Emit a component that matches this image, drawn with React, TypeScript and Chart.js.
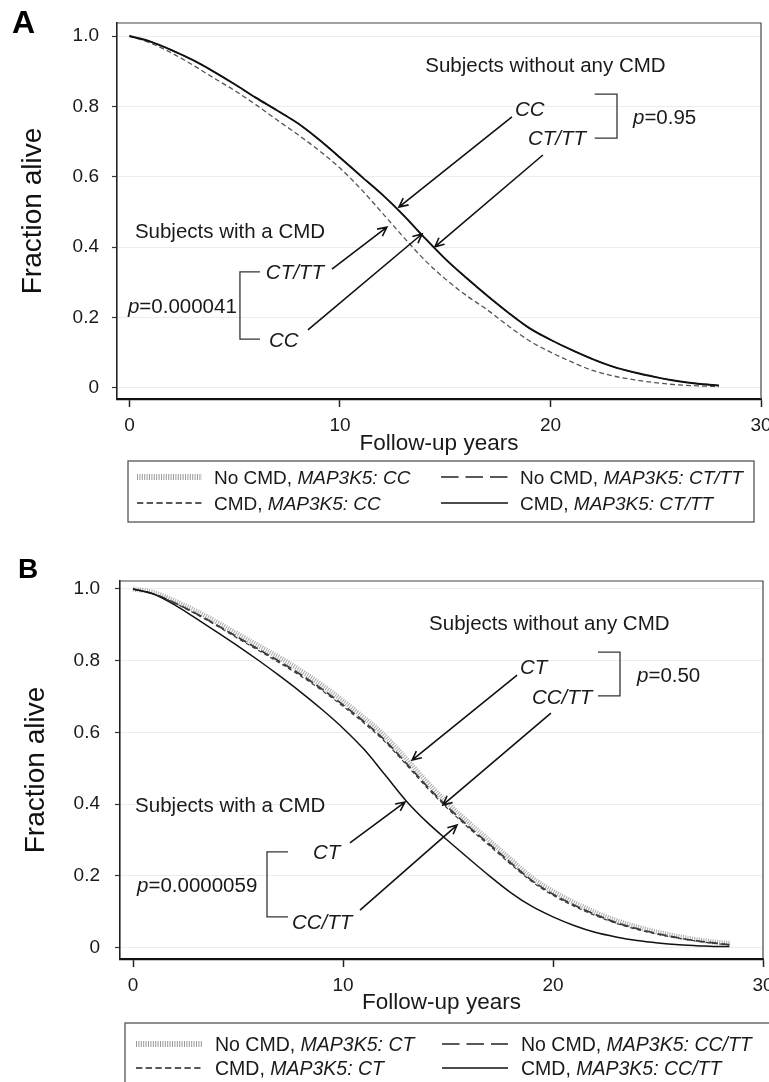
import React, { useEffect, useRef } from 'react';
import { Chart, registerables } from 'chart.js';

Chart.register(...registerables);

const SANS = '"Liberation Sans", Arial, Helvetica, sans-serif';

// ---------- shared axis ticks ----------
const yTickValues = [0, 0.2, 0.4, 0.6, 0.8, 1.0];
const yTickLabels = ['0', '0.2', '0.4', '0.6', '0.8', '1.0'];
const xTickValues = [0, 10, 20, 30];
const xTickLabels = ['0', '10', '20', '30'];

// ---------- Panel A data (fraction alive by follow-up year) ----------
const yearsA = [0, 1, 2, 3, 4, 5, 6, 7, 8, 9, 10, 11, 12, 13, 14, 15, 16, 17, 18, 19, 20, 21, 22, 23, 24, 25, 26, 27, 28];
const aNoCmdCC = [1.0, 0.984, 0.96, 0.932, 0.899, 0.863, 0.825, 0.789, 0.752, 0.706, 0.655, 0.602, 0.55, 0.492, 0.428, 0.367, 0.313, 0.262, 0.214, 0.17, 0.137, 0.108, 0.082, 0.06, 0.044, 0.031, 0.02, 0.012, 0.007];
const aNoCmdCTTT = [1.0, 0.984, 0.96, 0.932, 0.899, 0.863, 0.825, 0.789, 0.752, 0.706, 0.655, 0.602, 0.55, 0.492, 0.428, 0.367, 0.313, 0.262, 0.214, 0.17, 0.137, 0.108, 0.082, 0.06, 0.044, 0.031, 0.02, 0.012, 0.007];
const aCmdCC = [1.0, 0.98, 0.952, 0.918, 0.881, 0.845, 0.805, 0.762, 0.72, 0.675, 0.625, 0.565, 0.498, 0.43, 0.365, 0.31, 0.263, 0.222, 0.176, 0.134, 0.102, 0.074, 0.05, 0.034, 0.023, 0.015, 0.009, 0.006, 0.004];
const aCmdCTTT = [1.0, 0.984, 0.96, 0.932, 0.899, 0.863, 0.825, 0.789, 0.752, 0.706, 0.655, 0.602, 0.55, 0.492, 0.428, 0.367, 0.313, 0.262, 0.214, 0.17, 0.137, 0.108, 0.082, 0.06, 0.044, 0.031, 0.02, 0.012, 0.007];

// ---------- Panel B data ----------
const yearsB = [0, 1, 2, 3, 4, 5, 6, 7, 8, 9, 10, 11, 12, 13, 14, 15, 16, 17, 18, 19, 20, 21, 22, 23, 24, 25, 26, 27, 28, 28.4];
const bNoCmdCT = [1.0, 0.99, 0.966, 0.939, 0.907, 0.874, 0.841, 0.808, 0.772, 0.732, 0.688, 0.641, 0.59, 0.527, 0.462, 0.402, 0.348, 0.297, 0.245, 0.195, 0.157, 0.126, 0.099, 0.076, 0.058, 0.043, 0.031, 0.021, 0.014, 0.012];
const bNoCmdCCTT = [1.0, 0.986, 0.961, 0.932, 0.899, 0.865, 0.831, 0.797, 0.761, 0.721, 0.677, 0.63, 0.578, 0.515, 0.45, 0.391, 0.337, 0.287, 0.236, 0.187, 0.149, 0.119, 0.093, 0.07, 0.053, 0.039, 0.027, 0.018, 0.011, 0.009];
const bCmdCT = [1.0, 0.986, 0.96, 0.93, 0.897, 0.862, 0.828, 0.793, 0.757, 0.717, 0.673, 0.626, 0.574, 0.511, 0.446, 0.387, 0.333, 0.283, 0.232, 0.184, 0.146, 0.116, 0.09, 0.068, 0.051, 0.037, 0.026, 0.017, 0.01, 0.008];
const bCmdCCTT = [1.0, 0.985, 0.955, 0.918, 0.88, 0.841, 0.8, 0.757, 0.712, 0.664, 0.612, 0.553, 0.482, 0.41, 0.35, 0.298, 0.248, 0.199, 0.153, 0.115, 0.086, 0.062, 0.043, 0.03, 0.02, 0.013, 0.008, 0.005, 0.003, 0.003];

// ---------- legend texts ----------
const legendA: [string, string][] = [
  ['No CMD, ', 'MAP3K5: CC'],
  ['No CMD, ', 'MAP3K5: CT/TT'],
  ['CMD, ', 'MAP3K5: CC'],
  ['CMD, ', 'MAP3K5: CT/TT'],
];
const legendB: [string, string][] = [
  ['No CMD, ', 'MAP3K5: CT'],
  ['No CMD, ', 'MAP3K5: CC/TT'],
  ['CMD, ', 'MAP3K5: CT'],
  ['CMD, ', 'MAP3K5: CC/TT'],
];
const legendStyles = ['dotted', 'longdash', 'dash', 'solid'];

type Part = [string, boolean];
type Ann =
  | { kind: 'text'; x: number; y: number; parts: Part[] }
  | { kind: 'arrow'; x1: number; y1: number; x2: number; y2: number }
  | { kind: 'bracket'; x1: number; x2: number; y1: number; y2: number };

const annA: Ann[] = [
  { kind: 'text', x: 14.05, y: 0.918, parts: [['Subjects without any CMD', false]] },
  { kind: 'text', x: 18.31, y: 0.795, parts: [['CC', true]] },
  { kind: 'text', x: 18.93, y: 0.71, parts: [['CT/TT', true]] },
  { kind: 'bracket', x1: 22.1, x2: 23.16, y1: 0.835, y2: 0.71 },
  { kind: 'text', x: 23.92, y: 0.77, parts: [['p', true], ['=0.95', false]] },
  { kind: 'arrow', x1: 18.17, y1: 0.77, x2: 12.8, y2: 0.514 },
  { kind: 'arrow', x1: 19.64, y1: 0.662, x2: 14.51, y2: 0.401 },
  { kind: 'text', x: 0.26, y: 0.446, parts: [['Subjects with a CMD', false]] },
  { kind: 'text', x: 6.48, y: 0.33, parts: [['CT/TT', true]] },
  { kind: 'text', x: 6.63, y: 0.136, parts: [['CC', true]] },
  { kind: 'bracket', x1: 6.2, x2: 5.25, y1: 0.33, y2: 0.139 },
  { kind: 'text', x: -0.07, y: 0.233, parts: [['p', true], ['=0.000041', false]] },
  { kind: 'arrow', x1: 9.62, y1: 0.338, x2: 12.23, y2: 0.457 },
  { kind: 'arrow', x1: 8.48, y1: 0.165, x2: 13.9, y2: 0.4375 },
];

const annB: Ann[] = [
  { kind: 'text', x: 14.1, y: 0.905, parts: [['Subjects without any CMD', false]] },
  { kind: 'text', x: 18.43, y: 0.783, parts: [['CT', true]] },
  { kind: 'text', x: 19.0, y: 0.699, parts: [['CC/TT', true]] },
  { kind: 'bracket', x1: 22.14, x2: 23.19, y1: 0.824, y2: 0.702 },
  { kind: 'text', x: 24.0, y: 0.76, parts: [['p', true], ['=0.50', false]] },
  { kind: 'arrow', x1: 18.29, y1: 0.76, x2: 13.29, y2: 0.523 },
  { kind: 'arrow', x1: 19.9, y1: 0.654, x2: 14.76, y2: 0.398 },
  { kind: 'text', x: 0.1, y: 0.4, parts: [['Subjects with a CMD', false]] },
  { kind: 'text', x: 8.57, y: 0.267, parts: [['CT', true]] },
  { kind: 'text', x: 7.57, y: 0.0717, parts: [['CC/TT', true]] },
  { kind: 'bracket', x1: 7.38, x2: 6.38, y1: 0.267, y2: 0.0857 },
  { kind: 'text', x: 0.19, y: 0.175, parts: [['p', true], ['=0.0000059', false]] },
  { kind: 'arrow', x1: 10.33, y1: 0.292, x2: 12.95, y2: 0.406 },
  { kind: 'arrow', x1: 10.81, y1: 0.105, x2: 15.43, y2: 0.342 },
];

interface LegendCfg {
  box: [number, number, number, number];
  rows: [number, number];
  cols: { s1: number; s2: number; t: number }[];
  entries: [string, string][];
  size: number;
  squeeze: number;
}

interface PanelCfg {
  top: number;
  letter: string;
  letterX: number;
  letterBase: number;
  letterSize: number;
  pad: { left: number; top: number; right: number; bottom: number };
  yWidth: number;
  xHeight: number;
  yLabelPad: number;
  yTitlePad: number;
  xMin: number;
  xMax: number;
  yMin: number;
  yMax: number;
  xTitleBase: number;
  anns: Ann[];
  legend: LegendCfg;
  datasets: any[];
}

const H = 541;

function ds(label: string, years: number[], vals: number[], style: any, order: number) {
  return {
    label,
    data: years.map((x, i) => ({ x, y: vals[i] })),
    pointRadius: 0,
    fill: false,
    cubicInterpolationMode: 'monotone',
    order,
    ...style,
  };
}

const panelA: PanelCfg = {
  top: 0,
  letter: 'A',
  letterX: 12,
  letterBase: 33,
  letterSize: 32,
  pad: { left: 8, top: 23, right: 8, bottom: H - 399 - 60 },
  yWidth: 109,
  xHeight: 60,
  yLabelPad: 13,
  yTitlePad: 8,
  xMin: -0.59,
  xMax: 30,
  yMin: -0.0313,
  yMax: 1.037,
  xTitleBase: 450,
  anns: annA,
  legend: {
    box: [128, 461, 754, 522],
    rows: [477, 503],
    cols: [
      { s1: 137, s2: 202, t: 214 },
      { s1: 441, s2: 508, t: 520 },
    ],
    entries: legendA,
    size: 19,
    squeeze: 1,
  },
  datasets: [
    ds('No CMD, MAP3K5: CC', yearsA, aNoCmdCC, { borderColor: '#9a9a9a', borderWidth: 1.2, borderDash: [1, 1.3] }, 4),
    ds('No CMD, MAP3K5: CT/TT', yearsA, aNoCmdCTTT, { borderColor: '#333', borderWidth: 1.2, borderDash: [10, 4] }, 3),
    ds('CMD, MAP3K5: CC', yearsA, aCmdCC, { borderColor: '#555', borderWidth: 1.3, borderDash: [5, 3] }, 2),
    ds('CMD, MAP3K5: CT/TT', yearsA, aCmdCTTT, { borderColor: '#111', borderWidth: 1.9 }, 1),
  ],
};

const panelB: PanelCfg = {
  top: H,
  letter: 'B',
  letterX: 18,
  letterBase: 37,
  letterSize: 28,
  pad: { left: 8, top: 40, right: 6, bottom: H - 418 - 60 },
  yWidth: 112,
  xHeight: 60,
  yLabelPad: 15,
  yTitlePad: 11,
  xMin: -0.62,
  xMax: 30,
  yMin: -0.0315,
  yMax: 1.0223,
  xTitleBase: 468,
  anns: annB,
  legend: {
    box: [125, 482, 800, 560],
    rows: [503, 527],
    cols: [
      { s1: 136, s2: 202, t: 215 },
      { s1: 442, s2: 508, t: 521 },
    ],
    entries: legendB,
    size: 19.5,
    squeeze: 1,
  },
  datasets: [
    ds('No CMD, MAP3K5: CT', yearsB, bNoCmdCT, { borderColor: '#a8a8a8', borderWidth: 5, borderDash: [1, 1.3] }, 4),
    ds('No CMD, MAP3K5: CC/TT', yearsB, bNoCmdCCTT, { borderColor: '#3a3a3a', borderWidth: 1.7, borderDash: [9, 4] }, 3),
    ds('CMD, MAP3K5: CT', yearsB, bCmdCT, { borderColor: '#3a3a3a', borderWidth: 1.2, borderDash: [4, 3] }, 2),
    ds('CMD, MAP3K5: CC/TT', yearsB, bCmdCCTT, { borderColor: '#111', borderWidth: 1.5 }, 1),
  ],
};

function drawParts(ctx: CanvasRenderingContext2D, parts: Part[], x: number, base: number, size: number, squeeze = 1) {
  ctx.save();
  ctx.translate(x, base);
  ctx.scale(squeeze, 1);
  let cx = 0;
  for (const [s, it] of parts) {
    ctx.font = `${it ? 'italic ' : ''}${size}px ${SANS}`;
    ctx.fillText(s, cx, 0);
    cx += ctx.measureText(s).width;
  }
  ctx.restore();
}

function drawSample(ctx: CanvasRenderingContext2D, style: string, x1: number, x2: number, y: number) {
  ctx.save();
  ctx.beginPath();
  ctx.lineCap = 'butt';
  if (style === 'dotted') {
    ctx.strokeStyle = '#9a9a9a';
    ctx.lineWidth = 6;
    ctx.setLineDash([1, 1.4]);
  } else if (style === 'longdash') {
    ctx.strokeStyle = '#222';
    ctx.lineWidth = 1.6;
    ctx.setLineDash([17.5, 7]);
  } else if (style === 'dash') {
    ctx.strokeStyle = '#222';
    ctx.lineWidth = 1.3;
    ctx.setLineDash([6.3, 3.4]);
  } else {
    ctx.strokeStyle = '#111';
    ctx.lineWidth = 1.6;
    ctx.setLineDash([]);
  }
  ctx.moveTo(x1, y);
  ctx.lineTo(x2, y);
  ctx.stroke();
  ctx.restore();
}

function makeOverlay(cfg: PanelCfg) {
  return {
    id: 'overlay' + cfg.letter,
    afterDraw(chart: any) {
      const ctx: CanvasRenderingContext2D = chart.ctx;
      const { left, top, right, bottom } = chart.chartArea;
      const xs = chart.scales.x;
      const ys = chart.scales.y;
      ctx.save();
      // frame top + right
      ctx.strokeStyle = '#444';
      ctx.lineWidth = 1.2;
      ctx.beginPath();
      ctx.moveTo(left, top);
      ctx.lineTo(right, top);
      ctx.lineTo(right, bottom);
      ctx.stroke();

      // panel letter
      ctx.fillStyle = '#000';
      ctx.textBaseline = 'alphabetic';
      ctx.textAlign = 'left';
      ctx.font = `bold ${cfg.letterSize}px ${SANS}`;
      ctx.fillText(cfg.letter, cfg.letterX, cfg.letterBase);

      // x axis title
      ctx.fillStyle = '#1a1a1a';
      ctx.font = `22.5px ${SANS}`;
      ctx.textAlign = 'center';
      ctx.fillText('Follow-up years', (left + right) / 2, cfg.xTitleBase);
      ctx.textAlign = 'left';

      // annotations
      const fs = 20.5;
      for (const a of cfg.anns) {
        if (a.kind === 'text') {
          const px = xs.getPixelForValue(a.x);
          const py = ys.getPixelForValue(a.y);
          ctx.fillStyle = '#1a1a1a';
          drawParts(ctx, a.parts, px, py + 0.358 * fs, fs);
        } else if (a.kind === 'bracket') {
          const x1 = xs.getPixelForValue(a.x1);
          const x2 = xs.getPixelForValue(a.x2);
          const y1 = ys.getPixelForValue(a.y1);
          const y2 = ys.getPixelForValue(a.y2);
          ctx.strokeStyle = '#333';
          ctx.lineWidth = 1.3;
          ctx.beginPath();
          ctx.moveTo(x1, y1);
          ctx.lineTo(x2, y1);
          ctx.lineTo(x2, y2);
          ctx.lineTo(x1, y2);
          ctx.stroke();
        } else {
          const x1 = xs.getPixelForValue(a.x1);
          const x2 = xs.getPixelForValue(a.x2);
          const y1 = ys.getPixelForValue(a.y1);
          const y2 = ys.getPixelForValue(a.y2);
          const ang = Math.atan2(y2 - y1, x2 - x1);
          const hl = 10;
          const spread = 0.45;
          ctx.strokeStyle = '#111';
          ctx.lineWidth = 1.6;
          ctx.beginPath();
          ctx.moveTo(x1, y1);
          ctx.lineTo(x2, y2);
          ctx.moveTo(x2 - hl * Math.cos(ang - spread), y2 - hl * Math.sin(ang - spread));
          ctx.lineTo(x2, y2);
          ctx.lineTo(x2 - hl * Math.cos(ang + spread), y2 - hl * Math.sin(ang + spread));
          ctx.stroke();
        }
      }

      // legend
      const lg = cfg.legend;
      const [bl, bt, br, bb] = lg.box;
      ctx.strokeStyle = '#555';
      ctx.lineWidth = 1.3;
      ctx.strokeRect(bl, bt, br - bl, bb - bt);
      lg.entries.forEach((e, i) => {
        const row = Math.floor(i / 2);
        const col = i % 2;
        const c = lg.cols[col];
        const y = lg.rows[row];
        drawSample(ctx, legendStyles[i], c.s1, c.s2, y);
        ctx.fillStyle = '#1a1a1a';
        drawParts(ctx, [[e[0], false], [e[1], true]], c.t, y + 0.358 * lg.size, lg.size, lg.squeeze);
      });
      ctx.restore();
    },
  };
}

function Panel({ cfg }: { cfg: PanelCfg }) {
  const ref = useRef<HTMLCanvasElement>(null);
  useEffect(() => {
    const canvas = ref.current!;
    const chart = new Chart(canvas, {
      type: 'line',
      data: { datasets: cfg.datasets },
      options: {
        animation: false,
        responsive: false,
        maintainAspectRatio: false,
        devicePixelRatio: 1,
        events: [],
        layout: { padding: cfg.pad },
        plugins: { legend: { display: false }, tooltip: { enabled: false } },
        scales: {
          x: {
            type: 'linear',
            min: cfg.xMin,
            max: cfg.xMax,
            afterBuildTicks: (s: any) => {
              s.ticks = xTickValues.map((v) => ({ value: v }));
            },
            ticks: {
              autoSkip: false,
              maxRotation: 0,
              minRotation: 0,
              padding: 7,
              color: '#1a1a1a',
              font: { family: SANS, size: 19 },
              callback: (v: any) => xTickLabels[xTickValues.indexOf(Number(v))] ?? '',
            },
            grid: { drawOnChartArea: false, drawTicks: true, tickLength: 8, tickColor: '#222', tickWidth: 1.5 },
            border: { display: true, color: '#111', width: 2.2 },
            afterFit: (s: any) => {
              s.height = cfg.xHeight;
              s.paddingLeft = 0;
              s.paddingRight = 0;
            },
          },
          y: {
            type: 'linear',
            min: cfg.yMin,
            max: cfg.yMax,
            afterBuildTicks: (s: any) => {
              s.ticks = yTickValues.map((v) => ({ value: v }));
            },
            ticks: {
              autoSkip: false,
              padding: cfg.yLabelPad,
              color: '#1a1a1a',
              font: { family: SANS, size: 19 },
              callback: (v: any) => yTickLabels[yTickValues.indexOf(Number(v))] ?? '',
            },
            grid: { color: '#ececec', lineWidth: 1, drawTicks: true, tickLength: 5, tickColor: '#333', tickWidth: 1.2 },
            border: { display: true, color: '#222', width: 1.6 },
            title: {
              display: true,
              text: 'Fraction alive',
              color: '#111',
              font: { family: SANS, size: 28 },
              padding: { top: cfg.yTitlePad, bottom: 0 },
            },
            afterFit: (s: any) => {
              s.width = cfg.yWidth;
              s.paddingTop = 0;
              s.paddingBottom = 0;
            },
          },
        },
      } as any,
      plugins: [makeOverlay(cfg)],
    });
    return () => chart.destroy();
  }, [cfg]);
  return (
    <canvas
      ref={ref}
      width={769}
      height={H}
      style={{ position: 'absolute', left: 0, top: cfg.top, width: 769, height: H, display: 'block' }}
    />
  );
}

export default function App() {
  return (
    <div style={{ position: 'absolute', left: 0, top: 0, width: 769, height: 1082, background: '#fff', overflow: 'hidden' }}>
      <Panel cfg={panelA} />
      <Panel cfg={panelB} />
    </div>
  );
}
